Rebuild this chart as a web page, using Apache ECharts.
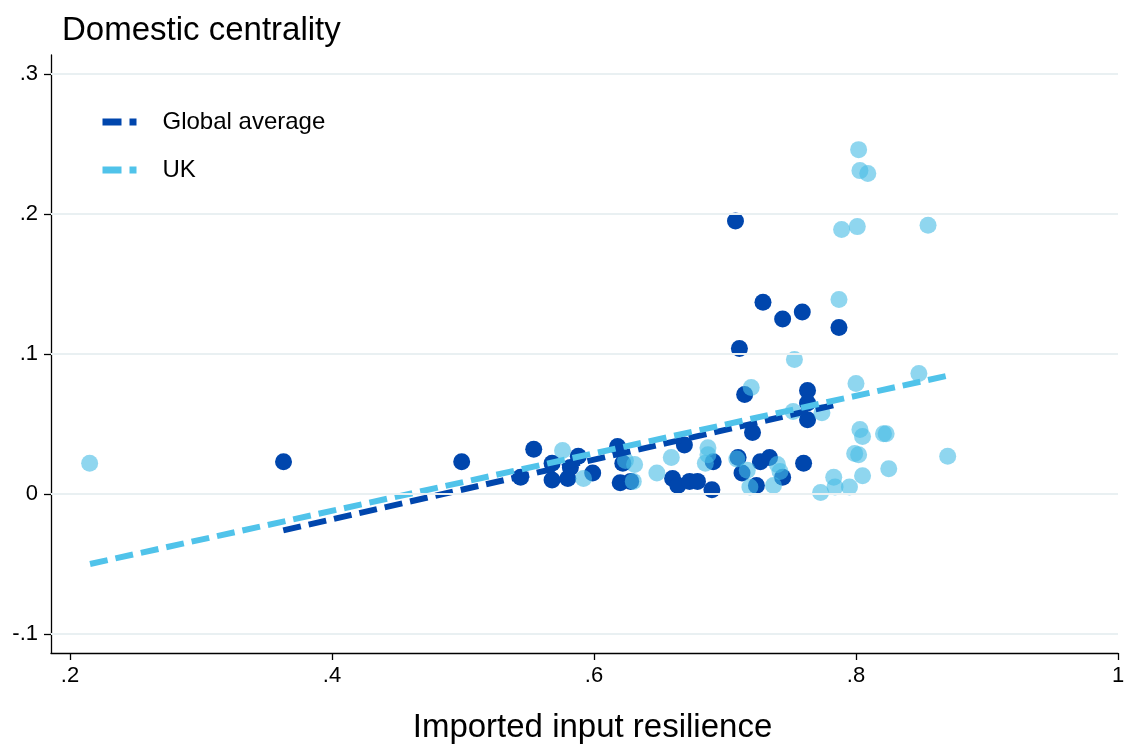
<!DOCTYPE html>
<html>
<head>
<meta charset="utf-8">
<script src="https://cdn.jsdelivr.net/npm/echarts@6/dist/echarts.min.js"></script>
<style>
  html, body { margin: 0; padding: 0; background: #fff; }
  #chart { width: 1124px; height: 744px; }
</style>
</head>
<body>
<div id="chart"></div>
<script>
// Imported input resilience (x) vs domestic centrality (y), by sector
const globalPoints = [
  [0.363, 0.023], [0.499, 0.023], [0.544, 0.012], [0.554, 0.032], [0.568, 0.022],
  [0.568, 0.010], [0.580, 0.011], [0.582, 0.019], [0.588, 0.027], [0.599, 0.015],
  [0.618, 0.034], [0.620, 0.008], [0.622, 0.022], [0.628, 0.009], [0.660, 0.011],
  [0.664, 0.006], [0.669, 0.035], [0.673, 0.009], [0.679, 0.009], [0.690, 0.003],
  [0.691, 0.023], [0.715, 0.071], [0.721, 0.044], [0.710, 0.026], [0.713, 0.015],
  [0.724, 0.006], [0.727, 0.023], [0.734, 0.026], [0.744, 0.012], [0.760, 0.022],
  [0.763, 0.074], [0.763, 0.065], [0.763, 0.053], [0.708, 0.195], [0.711, 0.104],
  [0.729, 0.137], [0.744, 0.125], [0.759, 0.130], [0.787, 0.119]
];

const ukPoints = [
  [0.215, 0.022], [0.576, 0.031], [0.592, 0.011], [0.624, 0.024], [0.631, 0.021],
  [0.630, 0.009], [0.648, 0.015], [0.659, 0.026], [0.685, 0.022], [0.687, 0.033],
  [0.687, 0.028], [0.709, 0.025], [0.717, 0.017], [0.719, 0.005], [0.720, 0.076],
  [0.737, 0.006], [0.740, 0.021], [0.742, 0.016], [0.752, 0.059], [0.753, 0.096],
  [0.774, 0.058], [0.787, 0.139], [0.800, 0.079], [0.848, 0.086], [0.802, 0.246],
  [0.803, 0.231], [0.809, 0.229], [0.789, 0.189], [0.801, 0.191], [0.855, 0.192],
  [0.803, 0.046], [0.805, 0.041], [0.821, 0.043], [0.823, 0.043], [0.799, 0.029],
  [0.802, 0.028], [0.870, 0.027], [0.825, 0.018], [0.805, 0.013], [0.783, 0.012],
  [0.784, 0.005], [0.795, 0.005], [0.773, 0.001]
];

// Fitted lines (end points of each linear fit)
const globalFit = [[0.3628, -0.026], [0.7855, 0.064]];
const ukFit = [[0.2153, -0.050], [0.870, 0.0845]];

const xTicks = [0.2, 0.4, 0.6, 0.8, 1];
const yTicks = [-0.1, 0, 0.1, 0.2, 0.3];

const DARK = '#0046ad';
const LIGHT = '#50c3ea';
const FONT = '"Liberation Sans", Arial, Helvetica, sans-serif';

function fmt(v) {
  const r = Math.round(v * 10) / 10;
  return String(r).replace(/^(-?)0\./, '$1.');
}

const chart = echarts.init(document.getElementById('chart'), null, { renderer: 'canvas' });

chart.setOption({
  animation: false,
  backgroundColor: '#fff',
  textStyle: { fontFamily: FONT },
  title: {
    text: 'Domestic centrality',
    left: 62,
    top: 14,
    padding: 0,
    textStyle: { fontFamily: FONT, fontSize: 33, fontWeight: 'normal', color: '#000' }
  },
  legend: {
    data: ['Global average', 'UK'],
    orient: 'vertical',
    left: 70,
    top: 72,
    padding: [38, 40, 32, 29],
    backgroundColor: '#fff',
    itemWidth: 34,
    itemHeight: 14,
    itemGap: 24,
    selectedMode: false,
    itemStyle: { opacity: 0 },
    lineStyle: { type: [19, 8], width: 7 },
    textStyle: {
      fontFamily: FONT, fontSize: 24, color: '#000',
      lineHeight: 24, padding: [0, 0, 0, 21]
    }
  },
  grid: { left: 51, right: 6, top: 55, bottom: 91, outerBoundsMode: 'none', containLabel: false },
  xAxis: {
    type: 'value',
    min: 0.1855,
    max: 1.0,
    name: 'Imported input resilience',
    nameLocation: 'middle',
    nameGap: 58,
    nameTextStyle: { fontFamily: FONT, fontSize: 33, color: '#000', padding: [0, 0, 0, 16] },
    axisLine: { show: true, onZero: false, lineStyle: { color: '#000', width: 1.3 } },
    axisTick: { show: true, length: 7, customValues: xTicks, lineStyle: { color: '#000', width: 1.3 } },
    axisLabel: { customValues: xTicks, formatter: fmt, margin: 12, fontSize: 22, color: '#000', fontFamily: FONT },
    splitLine: { show: false }
  },
  yAxis: {
    type: 'value',
    min: -0.1136,
    max: 0.3136,
    axisLine: { show: true, onZero: false, lineStyle: { color: '#000', width: 1.3 } },
    axisTick: { show: true, length: 7, customValues: yTicks, lineStyle: { color: '#000', width: 1.3 } },
    axisLabel: { customValues: yTicks, formatter: fmt, margin: 13, fontSize: 22, color: '#000', fontFamily: FONT },
    splitLine: { show: false }
  },
  series: [
    {
      name: 'Global sectors',
      type: 'scatter',
      data: globalPoints,
      symbolSize: 17,
      itemStyle: { color: DARK, opacity: 1 },
      emphasis: { disabled: true },
      markLine: {
        silent: true,
        symbol: ['none', 'none'],
        label: { show: false },
        emphasis: { disabled: true },
        lineStyle: { type: 'solid', color: '#e9f0f2', width: 2 },
        data: yTicks.map(v => ({ yAxis: v }))
      }
    },
    {
      name: 'UK sectors',
      type: 'scatter',
      data: ukPoints,
      symbolSize: 17,
      itemStyle: { color: 'rgba(70,188,229,0.76)' },
      emphasis: { disabled: true }
    },
    {
      name: 'Global average',
      type: 'line',
      data: globalFit,
      symbol: 'none',
      lineStyle: { color: DARK, width: 6, type: [18, 8] },
      itemStyle: { color: DARK },
      emphasis: { disabled: true }
    },
    {
      name: 'UK',
      type: 'line',
      data: ukFit,
      symbol: 'none',
      lineStyle: { color: LIGHT, width: 6, type: [18, 8] },
      itemStyle: { color: LIGHT },
      emphasis: { disabled: true }
    }
  ]
});
</script>
</body>
</html>
